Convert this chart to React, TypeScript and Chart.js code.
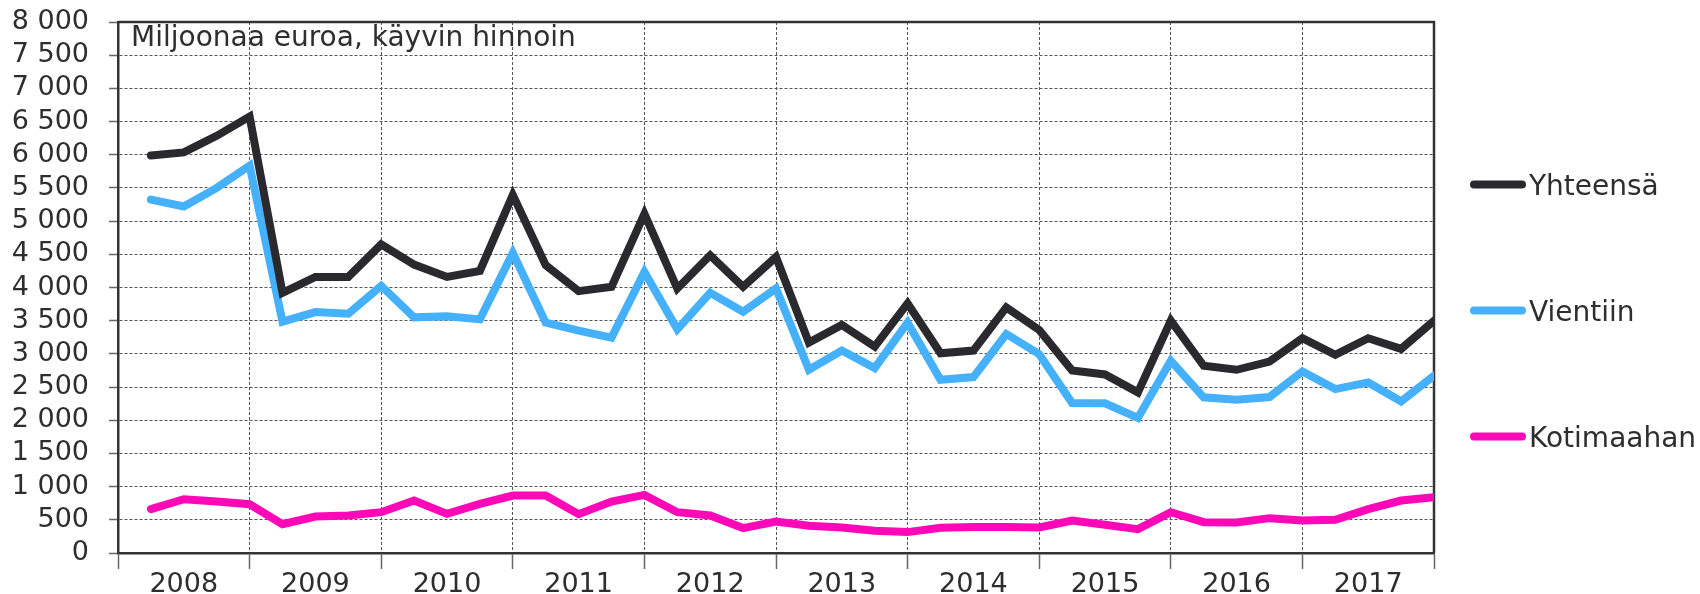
import React, { useEffect, useRef } from 'react';
import { Chart, registerables } from 'chart.js';

Chart.register(...registerables);

const firstYear = 2008;
const years = ['2008', '2009', '2010', '2011', '2012', '2013', '2014', '2015', '2016', '2017'];

const seriesNames = ['Yhteensä', 'Vientiin', 'Kotimaahan'];
const seriesColors = ['#29292e', '#45b0fc', '#ff08b8'];

const yhteensa = [
  5990, 6035, 6285, 6575, 3920, 4160, 4160, 4650, 4345, 4160,
  4250, 5395, 4335, 3945, 4010, 5110, 3985, 4485, 4010, 4460,
  3170, 3435, 3110, 3760, 3010, 3050, 3700, 3360, 2750, 2690,
  2420, 3500, 2820, 2760, 2885, 3235, 2985, 3235, 3075, 3500,
];
const vientiin = [
  5325, 5220, 5500, 5835, 3485, 3630, 3605, 4025, 3550, 3565,
  3520, 4520, 3470, 3350, 3245, 4235, 3370, 3920, 3635, 3985,
  2760, 3050, 2785, 3470, 2610, 2650, 3300, 2995, 2260, 2255,
  2035, 2895, 2345, 2310, 2350, 2735, 2470, 2570, 2285, 2670,
];
const kotimaahan = [
  660, 810, 775, 735, 435, 550, 565, 615, 790, 590,
  740, 865, 865, 585, 775, 875, 615, 565, 375, 475,
  410, 385, 335, 315, 380, 390, 390, 385, 490, 425,
  360, 615, 465, 460, 525, 490, 500, 660, 790, 840,
];

const titleText = 'Miljoonaa euroa, käyvin hinnoin';
const yMin = 0;
const yMax = 8000;
const yStep = 500;

const FONT = "'DejaVu Sans', Verdana, sans-serif";
const TEXT = '#2e2e2e';
const GRID = '#555555';

const toPoints = (arr: number[]) => arr.map((v, i) => ({ x: i + 1, y: v }));

const fmt = (v: number) => {
  const s = String(Math.round(v));
  return s.length > 3 ? s.slice(0, s.length - 3) + ' ' + s.slice(s.length - 3) : s;
};

const framePlugin = {
  id: 'frame',
  beforeDatasetsDraw(chart: any) {
    const { ctx, chartArea: a } = chart;
    ctx.save();
    ctx.strokeStyle = '#333333';
    ctx.lineWidth = 2.5;
    ctx.setLineDash([]);
    ctx.beginPath();
    ctx.moveTo(a.left, a.top);
    ctx.lineTo(a.right, a.top);
    ctx.lineTo(a.right, a.bottom);
    ctx.stroke();
    ctx.restore();
  },
  afterDraw(chart: any) {
    const { ctx, chartArea: a } = chart;
    ctx.save();
    ctx.font = `28px ${FONT}`;
    ctx.fillStyle = TEXT;
    ctx.textBaseline = 'alphabetic';
    ctx.textAlign = 'left';
    ctx.fillText(titleText, a.left + 13, a.top + 24);

    // legend
    const ds = chart.data.datasets;
    const cy = (a.top + a.bottom) / 2 + 23;
    const gap = 126;
    ds.forEach((d: any, i: number) => {
      const y = cy + (i - (ds.length - 1) / 2) * gap;
      ctx.strokeStyle = d.borderColor;
      ctx.lineWidth = 8;
      ctx.lineCap = 'round';
      ctx.beginPath();
      ctx.moveTo(a.right + 40, y);
      ctx.lineTo(a.right + 88, y);
      ctx.stroke();
      ctx.fillStyle = TEXT;
      ctx.fillText(d.label, a.right + 95, y + 10);
    });
    ctx.restore();
  },
};

export default function App() {
  const ref = useRef<HTMLCanvasElement>(null);

  useEffect(() => {
    document.body.style.margin = '0';
    if (!ref.current) return;
    const data = [yhteensa, vientiin, kotimaahan];
    const chart = new Chart(ref.current, {
      type: 'line',
      data: {
        datasets: data.map((arr, i) => ({
          label: seriesNames[i],
          data: toPoints(arr),
          borderColor: seriesColors[i],
          backgroundColor: seriesColors[i],
          borderWidth: 8,
          pointRadius: 0,
          pointHoverRadius: 0,
          tension: 0,
          borderJoinStyle: 'miter' as const,
          borderCapStyle: 'round' as const,
          clip: 0,
        })),
      },
      options: {
        animation: false,
        responsive: false,
        maintainAspectRatio: false,
        layout: { padding: { top: 22, right: 266, bottom: 0, left: 0 } },
        plugins: {
          legend: { display: false },
          tooltip: { enabled: false },
          title: { display: false },
        },
        scales: {
          x: {
            type: 'linear',
            min: 0,
            max: years.length * 4,
            afterFit: (s: any) => {
              s.height = 41;
              s.paddingLeft = 0;
              s.paddingRight = 0;
            },
            ticks: {
              stepSize: 2,
              autoSkip: false,
              maxRotation: 0,
              includeBounds: true,
              maxTicksLimit: 100,
              padding: 0,
              color: TEXT,
              font: { family: FONT, size: 27 },
              callback: (v: any) => {
                const n = Number(v);
                if (n % 4 !== 2) return '';
                return years[(n - 2) / 4] ?? String(firstYear + (n - 2) / 4);
              },
            },
            grid: {
              color: (c: any) => (c.tick && c.tick.value % 4 === 0 ? GRID : 'rgba(0,0,0,0)'),
              tickColor: (c: any) => (c.tick && c.tick.value % 4 === 0 ? '#666666' : 'rgba(0,0,0,0)'),
              tickLength: 16,
              lineWidth: 1,
              tickWidth: 1.5,
              tickBorderDash: [],
            } as any,
            border: { display: true, color: '#333333', width: 2.5, dash: [3, 2] } as any,
          },
          y: {
            min: yMin,
            max: yMax,
            afterFit: (s: any) => {
              s.width = 118;
              s.paddingTop = 10;
              s.paddingBottom = 10;
            },
            ticks: {
              stepSize: yStep,
              autoSkip: false,
              padding: 20,
              color: TEXT,
              font: { family: FONT, size: 27 },
              callback: (v: any) => fmt(Number(v)),
            },
            grid: {
              color: GRID,
              lineWidth: 1,
              tickLength: 9,
              tickColor: '#666666',
              tickWidth: 1.5,
            } as any,
            border: { display: true, color: '#333333', width: 2.5, dash: [3, 2] } as any,
          },
        },
      } as any,
      plugins: [framePlugin],
    });
    return () => chart.destroy();
  }, []);

  return (
    <div style={{ width: 1700, height: 594, position: 'relative' }}>
      <style>{'body{margin:0}'}</style>
      <canvas ref={ref} width={1700} height={594} style={{ display: 'block', width: 1700, height: 594 }} />
    </div>
  );
}
